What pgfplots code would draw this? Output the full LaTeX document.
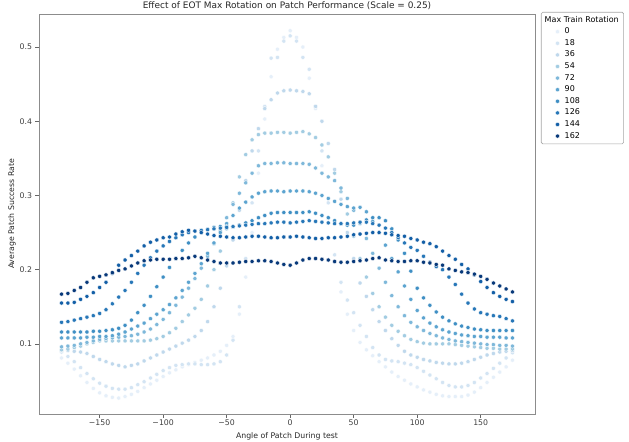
\documentclass[border=0pt]{standalone}
\usepackage{fontspec}
\setmainfont{DejaVu Sans}
\usepackage{pgfplots}
\usepackage{pgfplotstable}
\pgfplotsset{compat=1.18}
\definecolor{c0}{HTML}{E5EFF9}
\definecolor{c18}{HTML}{D3E4F3}
\definecolor{c36}{HTML}{BFD8EC}
\definecolor{c54}{HTML}{A2CCE2}
\definecolor{c72}{HTML}{7EB8DA}
\definecolor{c90}{HTML}{5CA4D0}
\definecolor{c108}{HTML}{3F8FC4}
\definecolor{c126}{HTML}{2777B8}
\definecolor{c144}{HTML}{135FA7}
\definecolor{c162}{HTML}{08397A}
\pgfplotstableread{
x s0 s18 s36 s54 s72 s90 s108 s126 s144 s162
-180 0.081 0.089 0.091 0.092 0.096 0.108 0.116 0.129 0.155 0.167
-175 0.074 0.083 0.091 0.093 0.097 0.108 0.116 0.130 0.155 0.168
-170 0.066 0.076 0.090 0.095 0.098 0.108 0.116 0.132 0.156 0.172
-165 0.057 0.068 0.089 0.097 0.100 0.108 0.116 0.134 0.160 0.176
-160 0.048 0.060 0.087 0.100 0.102 0.109 0.116 0.136 0.164 0.183
-155 0.040 0.053 0.083 0.102 0.104 0.109 0.117 0.138 0.169 0.189
-150 0.034 0.047 0.079 0.104 0.106 0.110 0.117 0.141 0.176 0.191
-145 0.030 0.043 0.076 0.104 0.107 0.110 0.118 0.146 0.183 0.193
-140 0.028 0.040 0.073 0.104 0.108 0.111 0.119 0.154 0.195 0.196
-135 0.027 0.039 0.071 0.104 0.109 0.113 0.121 0.163 0.206 0.199
-130 0.029 0.039 0.069 0.104 0.110 0.116 0.125 0.172 0.213 0.201
-125 0.032 0.041 0.071 0.104 0.111 0.120 0.132 0.183 0.219 0.205
-120 0.036 0.045 0.073 0.104 0.113 0.124 0.142 0.195 0.225 0.209
-115 0.041 0.049 0.077 0.104 0.116 0.128 0.152 0.206 0.232 0.212
-110 0.046 0.054 0.081 0.105 0.120 0.134 0.164 0.216 0.237 0.213
-105 0.051 0.059 0.085 0.107 0.126 0.140 0.177 0.225 0.240 0.214
-100 0.056 0.064 0.089 0.110 0.133 0.146 0.190 0.232 0.243 0.214
-95 0.061 0.068 0.093 0.115 0.142 0.153 0.203 0.238 0.244 0.214
-90 0.065 0.071 0.097 0.121 0.152 0.162 0.215 0.243 0.248 0.215
-85 0.069 0.072 0.101 0.130 0.163 0.172 0.226 0.247 0.251 0.215
-80 0.072 0.073 0.105 0.139 0.175 0.183 0.236 0.250 0.253 0.216
-75 0.075 0.073 0.110 0.148 0.188 0.195 0.244 0.252 0.252 0.218
-70 0.078 0.072 0.118 0.160 0.202 0.208 0.250 0.253 0.250 0.216
-65 0.081 0.072 0.130 0.178 0.218 0.222 0.254 0.254 0.248 0.213
-60 0.085 0.073 0.150 0.200 0.235 0.236 0.257 0.255 0.246 0.211
-55 0.090 0.076 0.175 0.225 0.252 0.250 0.258 0.256 0.245 0.209
-50 0.098 0.085 0.205 0.255 0.270 0.262 0.258 0.257 0.244 0.209
-45 0.110 0.105 0.240 0.290 0.288 0.273 0.258 0.258 0.243 0.209
-40 0.140 0.150 0.280 0.325 0.303 0.283 0.260 0.259 0.243 0.210
-35 0.190 0.215 0.320 0.355 0.317 0.291 0.263 0.260 0.244 0.211
-30 0.250 0.290 0.360 0.375 0.330 0.298 0.266 0.261 0.245 0.211
-25 0.330 0.360 0.390 0.382 0.340 0.303 0.270 0.262 0.245 0.212
-20 0.403 0.420 0.417 0.384 0.343 0.305 0.273 0.262 0.244 0.212
-15 0.460 0.485 0.429 0.384 0.343 0.306 0.276 0.263 0.243 0.211
-10 0.497 0.486 0.438 0.385 0.344 0.306 0.277 0.264 0.243 0.209
-5 0.513 0.508 0.441 0.385 0.344 0.305 0.277 0.264 0.244 0.207
0 0.522 0.515 0.442 0.384 0.343 0.306 0.277 0.263 0.244 0.206
5 0.513 0.508 0.441 0.385 0.343 0.306 0.277 0.264 0.245 0.209
10 0.500 0.486 0.440 0.386 0.343 0.306 0.277 0.265 0.244 0.213
15 0.458 0.470 0.437 0.383 0.342 0.305 0.278 0.266 0.243 0.215
20 0.417 0.420 0.420 0.378 0.337 0.303 0.276 0.265 0.242 0.215
25 0.340 0.360 0.400 0.368 0.330 0.300 0.273 0.264 0.242 0.214
30 0.270 0.290 0.370 0.352 0.325 0.296 0.270 0.263 0.243 0.213
35 0.210 0.220 0.335 0.330 0.320 0.292 0.266 0.262 0.243 0.211
40 0.170 0.183 0.295 0.305 0.310 0.288 0.262 0.262 0.244 0.210
45 0.140 0.159 0.250 0.275 0.296 0.285 0.260 0.262 0.245 0.210
50 0.118 0.142 0.215 0.245 0.280 0.283 0.260 0.263 0.247 0.211
55 0.102 0.125 0.182 0.215 0.262 0.284 0.263 0.264 0.248 0.212
60 0.092 0.110 0.164 0.190 0.242 0.278 0.267 0.264 0.249 0.213
65 0.084 0.095 0.146 0.168 0.222 0.265 0.270 0.262 0.250 0.215
70 0.076 0.085 0.130 0.150 0.202 0.250 0.270 0.260 0.250 0.216
75 0.069 0.079 0.118 0.136 0.183 0.233 0.266 0.256 0.249 0.213
80 0.062 0.077 0.107 0.125 0.165 0.215 0.255 0.250 0.247 0.212
85 0.056 0.076 0.098 0.117 0.150 0.197 0.240 0.243 0.246 0.211
90 0.051 0.074 0.090 0.111 0.138 0.178 0.222 0.236 0.245 0.211
95 0.046 0.072 0.085 0.106 0.129 0.160 0.198 0.230 0.242 0.212
100 0.042 0.068 0.082 0.103 0.123 0.145 0.175 0.226 0.240 0.212
105 0.038 0.063 0.079 0.101 0.118 0.135 0.162 0.218 0.237 0.210
110 0.035 0.058 0.077 0.100 0.114 0.128 0.152 0.210 0.235 0.209
115 0.032 0.053 0.075 0.100 0.111 0.123 0.143 0.204 0.231 0.207
120 0.030 0.048 0.074 0.100 0.108 0.119 0.136 0.200 0.225 0.206
125 0.029 0.044 0.073 0.100 0.106 0.116 0.131 0.190 0.219 0.201
130 0.029 0.042 0.073 0.099 0.104 0.114 0.127 0.180 0.214 0.199
135 0.029 0.042 0.074 0.098 0.103 0.112 0.124 0.167 0.207 0.197
140 0.031 0.044 0.076 0.097 0.102 0.111 0.122 0.155 0.201 0.196
145 0.035 0.048 0.079 0.096 0.101 0.110 0.120 0.147 0.193 0.194
150 0.041 0.054 0.082 0.095 0.100 0.110 0.119 0.142 0.184 0.191
155 0.048 0.060 0.085 0.094 0.099 0.109 0.118 0.140 0.176 0.187
160 0.055 0.067 0.087 0.094 0.099 0.109 0.118 0.138 0.169 0.182
165 0.062 0.074 0.089 0.093 0.098 0.109 0.118 0.137 0.164 0.178
170 0.069 0.081 0.090 0.093 0.098 0.108 0.118 0.134 0.160 0.174
175 0.078 0.088 0.091 0.093 0.097 0.108 0.118 0.131 0.157 0.170
}\data
\pgfplotsset{
  dots/.style={only marks, mark=*, mark size=2.1bp,
    mark options={fill=#1, draw=white, line width=0.35bp},
    legend image code/.code={\path (-13bp,0bp) (5bp,0bp);
      \draw[##1] plot coordinates {(0bp,0bp)};}},
}
\begin{document}
\begin{tikzpicture}
\begin{axis}[
  at={(0,0)}, anchor=south west,
  scale only axis, width=496bp, height=400bp,
  xmin=-197.75, xmax=192.75, ymin=0.0055, ymax=0.5445,
  xtick={-150,-100,-50,0,50,100,150},
  xticklabels={−150,−100,−50,0,50,100,150},
  ytick={0.1,0.2,0.3,0.4,0.5},
  yticklabels={0.1,0.2,0.3,0.4,0.5},
  xtick pos=bottom, ytick pos=left,
  tick align=outside, major tick length=3.5bp,
  tick style={color=black!60, line width=0.6bp},
  axis line style={black!45, line width=0.8bp},
  ticklabel style={font=\fontsize{7.8}{9}\selectfont, text=black!75},
  xticklabel style={yshift=1bp},
  xlabel={Angle of Patch During test},
  ylabel={Average Patch Success Rate},
  label style={font=\fontsize{7.8}{9}\selectfont, text=black!85},
  xlabel style={yshift=0bp},
  ylabel style={yshift=-3bp},
  title={Effect of EOT Max Rotation on Patch Performance (Scale = 0.25)},
  title style={font=\fontsize{9}{10}\selectfont, text=black!85, yshift=-5.5bp},
  legend cell align=left,
  legend style={at={(1.012,1.005)}, anchor=north west,
    font=\fontsize{8}{9}\selectfont, draw=black!35, line width=0.6bp,
    rounded corners=1.5bp,
    row sep=0bp, nodes={inner sep=1.9bp, text height=6bp, text depth=1.8bp}},
]
\addlegendimage{empty legend}
\addlegendentry{\hspace{-20bp}Max Train Rotation\hspace{1bp}}
\addplot[dots=c0] table[x=x,y=s0]{\data}; \addlegendentry{0}
\addplot[dots=c18] table[x=x,y=s18]{\data}; \addlegendentry{18}
\addplot[dots=c36] table[x=x,y=s36]{\data}; \addlegendentry{36}
\addplot[dots=c54] table[x=x,y=s54]{\data}; \addlegendentry{54}
\addplot[dots=c72] table[x=x,y=s72]{\data}; \addlegendentry{72}
\addplot[dots=c90] table[x=x,y=s90]{\data}; \addlegendentry{90}
\addplot[dots=c108] table[x=x,y=s108]{\data}; \addlegendentry{108}
\addplot[dots=c126] table[x=x,y=s126]{\data}; \addlegendentry{126}
\addplot[dots=c144] table[x=x,y=s144]{\data}; \addlegendentry{144}
\addplot[dots=c162] table[x=x,y=s162]{\data}; \addlegendentry{162}
\end{axis}
\pgfresetboundingbox
\path[use as bounding box] (-39bp,-28bp) rectangle (590bp,414bp);
\end{tikzpicture}
\end{document}
